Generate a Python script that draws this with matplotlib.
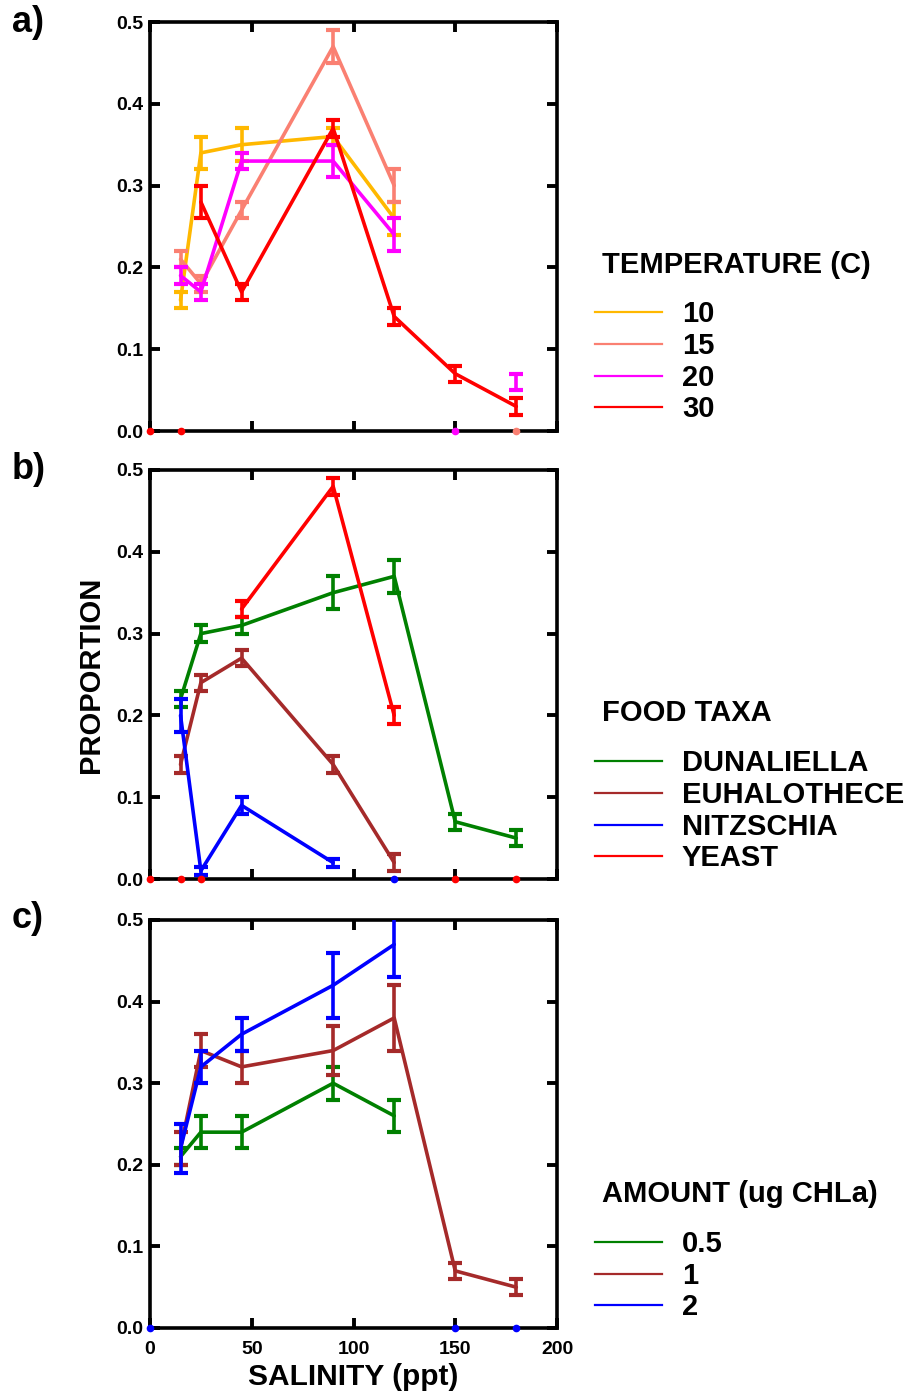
import matplotlib
matplotlib.use("Agg")
import matplotlib.pyplot as plt
import numpy as np
from matplotlib.lines import Line2D

plt.rcParams["font.family"] = ["Liberation Sans", "DejaVu Sans"]
plt.rcParams["font.weight"] = "bold"

nan = np.nan
SALINITY = [0, 15, 25, 45, 90, 120, 150, 180]

# a) temperature (C); 0 = zero proportion drawn on the axis, nan = not sampled
TEMP_LABELS = ["10", "15", "20", "30"]
temp_10 = [nan, 0.16, 0.34, 0.35, 0.36, 0.26, nan, nan]
temp_10_err = [nan, 0.01, 0.02, 0.02, 0.01, 0.02, nan, nan]
temp_15 = [nan, 0.21, 0.18, 0.27, 0.47, 0.30, nan, 0.0]
temp_15_err = [nan, 0.01, 0.01, 0.01, 0.02, 0.02, nan, 0.0]
temp_20 = [nan, 0.19, 0.17, 0.33, 0.33, 0.24, 0.0, 0.06]
temp_20_err = [nan, 0.01, 0.01, 0.01, 0.02, 0.02, 0.0, 0.01]
temp_30 = [0.0, 0.0, 0.28, 0.17, 0.37, 0.14, 0.07, 0.03]
temp_30_err = [0.0, 0.0, 0.02, 0.01, 0.01, 0.01, 0.01, 0.01]

# b) food taxa
FOOD_LABELS = ["DUNALIELLA", "EUHALOTHECE", "NITZSCHIA", "YEAST"]
duna = [nan, 0.22, 0.30, 0.31, 0.35, 0.37, 0.07, 0.05]
duna_err = [nan, 0.01, 0.01, 0.01, 0.02, 0.02, 0.01, 0.01]
euha = [nan, 0.14, 0.24, 0.27, 0.14, 0.02, nan, nan]
euha_err = [nan, 0.01, 0.01, 0.01, 0.01, 0.01, nan, nan]
nitz = [nan, 0.20, 0.01, 0.09, 0.02, 0.0, nan, nan]
nitz_err = [nan, 0.02, 0.005, 0.01, 0.005, 0.0, nan, nan]
yeast = [0.0, 0.0, 0.0, 0.33, 0.48, 0.20, 0.0, 0.0]
yeast_err = [0.0, 0.0, 0.0, 0.01, 0.01, 0.01, 0.0, 0.0]

# c) amount (ug CHLa)
AMOUNT_LABELS = ["0.5", "1", "2"]
amt_05 = [nan, 0.21, 0.24, 0.24, 0.30, 0.26, nan, nan]
amt_05_err = [nan, 0.01, 0.02, 0.02, 0.02, 0.02, nan, nan]
amt_1 = [nan, 0.22, 0.34, 0.32, 0.34, 0.38, 0.07, 0.05]
amt_1_err = [nan, 0.02, 0.02, 0.02, 0.03, 0.04, 0.01, 0.01]
amt_2 = [0.0, 0.22, 0.32, 0.36, 0.42, 0.47, 0.0, 0.0]
amt_2_err = [0.0, 0.03, 0.02, 0.02, 0.04, 0.04, 0.0, 0.0]

TEMP_COLORS = ["#FFB800", "#FA8072", "#FF00FF", "#FF0000"]
FOOD_COLORS = ["#008000", "#A52A2A", "#0000FF", "#FF0000"]
AMOUNT_COLORS = ["#008000", "#A52A2A", "#0000FF"]

W, H = 916, 1393
fig = plt.figure(figsize=(W / 100, H / 100), dpi=100)


def px_axes(left, top, right, bottom):
    return fig.add_axes([left / W, 1 - bottom / H, (right - left) / W, (bottom - top) / H])


def draw_series(ax, y, err, color):
    x = np.array(SALINITY, dtype=float)
    y = np.array(y, dtype=float)
    err = np.array(err, dtype=float)
    line_y = np.where(y == 0, nan, y)
    ax.plot(x, line_y, color=color, lw=2.6, zorder=3, solid_capstyle="round")
    ok = ~np.isnan(line_y)
    ax.errorbar(x[ok], line_y[ok], yerr=err[ok], fmt="none", ecolor=color,
                elinewidth=2.6, capsize=5, capthick=3, zorder=3)
    zero = y == 0
    ax.plot(x[zero], y[zero], "o", color=color, ms=4.5, clip_on=False, zorder=6)


def style_axes(ax, show_x):
    ax.set_xlim(0, 200)
    ax.set_ylim(0, 0.5)
    ax.set_xticks([0, 50, 100, 150, 200])
    ax.set_yticks(np.arange(0, 0.51, 0.1))
    ax.set_yticklabels([f"{v:.1f}" for v in np.arange(0, 0.51, 0.1)])
    ax.tick_params(direction="in", length=7.5, width=2.8, top=True, right=True,
                   labelsize=14)
    ax.tick_params(axis="y", pad=5)
    ax.tick_params(axis="x", pad=9)
    if not show_x:
        ax.tick_params(labelbottom=False)
    for s in ax.spines.values():
        s.set_linewidth(2.6)


def add_legend(labels, colors, title, title_y, entry_ys):
    # legend drawn in figure pixels so spacing follows the reference
    fig.text(602 / W, 1 - (title_y + 10) / H, title, fontsize=21,
             fontweight="bold", va="baseline", ha="left")
    for lab, col, y in zip(labels, colors, entry_ys):
        fig.add_artist(Line2D([595 / W, 662 / W], [1 - y / H, 1 - y / H],
                              color=col, lw=1.6, transform=fig.transFigure))
        fig.text(682 / W, 1 - (y + 10) / H, lab, fontsize=21,
                 fontweight="bold", va="baseline", ha="left")


ax_a = px_axes(150, 22, 557, 431)
for y, e, c in zip([temp_10, temp_15, temp_20, temp_30],
                   [temp_10_err, temp_15_err, temp_20_err, temp_30_err], TEMP_COLORS):
    draw_series(ax_a, y, e, c)
style_axes(ax_a, False)
add_legend(TEMP_LABELS, TEMP_COLORS, "TEMPERATURE (C)", 263, [312, 344, 376, 407])

ax_b = px_axes(150, 470, 557, 879)
for y, e, c in zip([duna, euha, nitz, yeast],
                   [duna_err, euha_err, nitz_err, yeast_err], FOOD_COLORS):
    draw_series(ax_b, y, e, c)
style_axes(ax_b, False)
ax_b.set_ylabel("PROPORTION", fontsize=21, fontweight="bold", labelpad=8)
add_legend(FOOD_LABELS, FOOD_COLORS, "FOOD TAXA", 711, [761, 793, 825, 856])

ax_c = px_axes(150, 920, 557, 1328)
for y, e, c in zip([amt_05, amt_1, amt_2],
                   [amt_05_err, amt_1_err, amt_2_err], AMOUNT_COLORS):
    draw_series(ax_c, y, e, c)
style_axes(ax_c, True)
ax_c.set_xlabel("SALINITY (ppt)", fontsize=21.5, fontweight="bold", labelpad=4)
add_legend(AMOUNT_LABELS, AMOUNT_COLORS, "AMOUNT (ug CHLa)", 1192, [1242, 1274, 1305])

for label, y_px in zip(["a)", "b)", "c)"], [22, 470, 918]):
    fig.text(12 / W, 1 - y_px / H, label, fontsize=26, fontweight="bold", va="center")

fig.savefig("out.png", dpi=100)
